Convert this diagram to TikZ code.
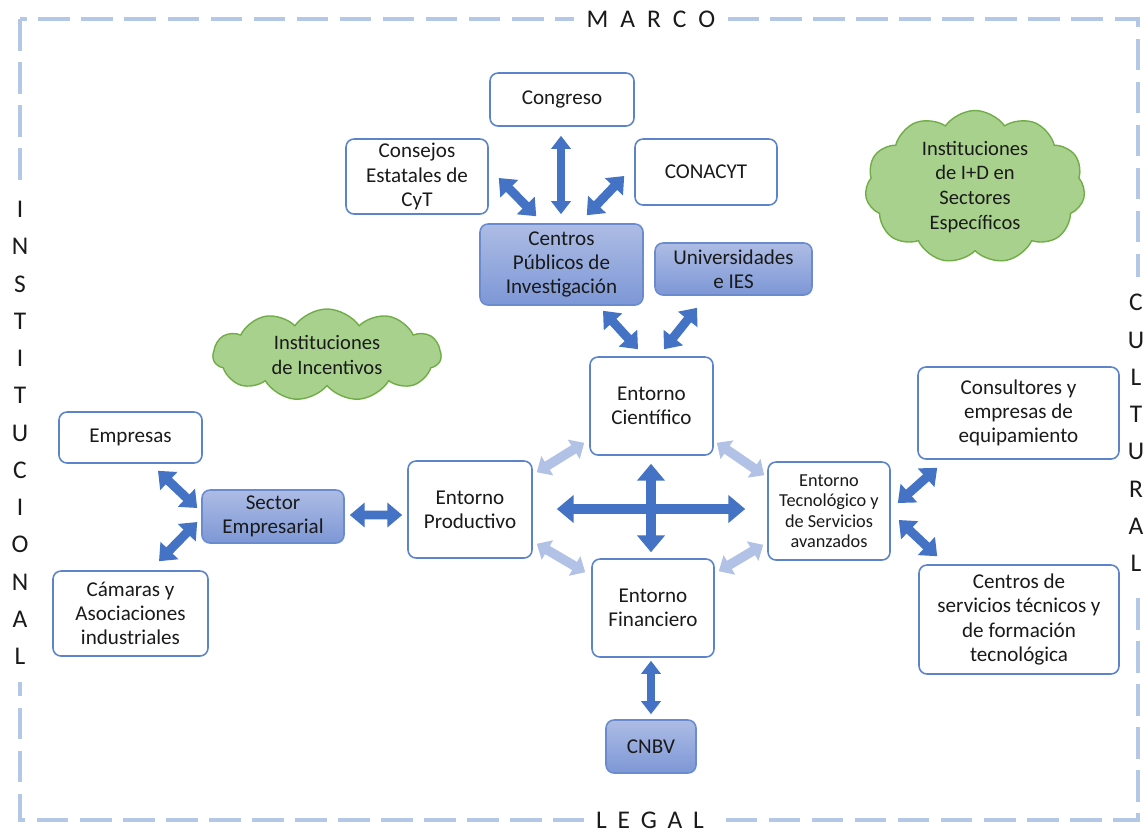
\documentclass[tikz,border=0pt]{standalone}
\usepackage{fontspec}
\setmainfont{Carlito}
\usetikzlibrary{arrows.meta,shapes.symbols,calc}
\definecolor{bxblue}{HTML}{5B84CC}
\definecolor{sbxblue}{HTML}{6A8CCF}
\definecolor{arrblue}{HTML}{4472C4}
\definecolor{litblue}{HTML}{B1C2E6}
\definecolor{dashblue}{HTML}{B4C7E7}
\definecolor{filltop}{HTML}{ADBCE4}
\definecolor{fillbot}{HTML}{7D97D6}
\definecolor{cloudfill}{HTML}{A9D18E}
\definecolor{clouddraw}{HTML}{70AD47}
\definecolor{txt}{HTML}{1A1A1A}
\begin{document}
\begin{tikzpicture}[x=0.02cm,y=-0.02cm,
  every node/.style={text=txt, font=\fontsize{12}{13.7}\selectfont},
  sz/.style 2 args={minimum width=#1*0.02cm, minimum height=#2*0.02cm},
  box/.style={draw=bxblue, line width=0.9pt, rounded corners=0.16cm, fill=white, align=center, inner sep=0pt},
  shadedbox/.style={box, draw=sbxblue, top color=filltop, bottom color=fillbot},
  cloudnode/.style={cloud, cloud puffs=11, cloud puff arc=110, draw=clouddraw, fill=cloudfill, line width=0.8pt, align=center, inner sep=0pt, font=\fontsize{11.7}{14.2}\selectfont},
  darr/.style={draw=arrblue, line width=5.1pt, {Triangle[width=13.7pt,length=8.5pt]}-{Triangle[width=13.7pt,length=8.5pt]}},
  varr/.style={draw=arrblue, line width=5.1pt, {Triangle[width=11pt,length=7.5pt]}-{Triangle[width=11pt,length=7.5pt]}},
  carr/.style={draw=arrblue, line width=5.4pt, {Triangle[width=15.4pt,length=9.6pt]}-{Triangle[width=15.4pt,length=9.6pt]}},
  larr/.style={draw=litblue, line width=5.4pt, {Triangle[width=12.5pt,length=7pt]}-{Triangle[width=12.5pt,length=7pt]}},
  bordertxt/.style={fill=white, inner xsep=7pt, inner ysep=3pt, font=\fontsize{14.5}{21.2}\selectfont}
]
\useasboundingbox (0,0) rectangle (1148,833);
\fill[white] (0,0) rectangle (1148,833);
% frame
\draw[dashblue, line width=2.3pt, dash pattern=on 18pt off 6.5pt] (20,19) rectangle (1138,820);
\node[bordertxt] (marco) at (651,19) {M\kern6.8pt A\kern6.8pt R\kern6.8pt C\kern6.8pt O};
\node[bordertxt] (legal) at (650,820) {L\kern6.1pt E\kern6.1pt G\kern6.1pt A\kern6.1pt L};
\node[bordertxt, align=center, inner xsep=4pt, inner ysep=10pt] (inst) at (20,433) {I\\N\\S\\T\\I\\T\\U\\C\\I\\O\\N\\A\\L};
\node[bordertxt, align=center, inner xsep=4pt, inner ysep=10pt] (cult) at (1136,433) {C\\U\\L\\T\\U\\R\\A\\L};

% clouds
\node[cloudnode, sz={220}{153}, aspect=1.44] (clID) at (975,187) {Instituciones\\de I+D en\\Sectores\\Específicos};
\node[cloudnode, sz={228}{92}, aspect=2.48] (clInc) at (327,355) {Instituciones\\de Incentivos};

% boxes
\node[box, sz={144}{53}] (congreso) at (562,99.5) {Congreso};
\node[box, sz={142}{75}] (consejos) at (417,176.5) {Consejos\\Estatales de\\CyT};
\node[box, sz={142}{66}] (conacyt) at (706,172) {CONACYT};
\node[shadedbox, sz={163}{81}] (cpi) at (561.5,264.5) {Centros\\Públicos de\\Investigación};
\node[shadedbox, sz={157}{52}] (univ) at (733.5,269) {Universidades\\e IES};
\node[box, sz={123}{98}] (cient) at (651.5,406) {Entorno\\Científico};
\node[box, sz={124}{97}] (prod) at (470,509.5) {Entorno\\Productivo};
\node[box, sz={122}{98}, font=\fontsize{10.4}{11.6}\selectfont] (tecno) at (829,511) {Entorno\\Tecnológico y\\de Servicios\\avanzados};
\node[box, sz={122}{98}] (fin) at (653,608) {Entorno\\Financiero};
\node[shadedbox, sz={90}{53}] (cnbv) at (651,746.5) {CNBV};
\node[box, sz={143}{51}] (empresas) at (130.5,437.5) {Empresas};
\node[shadedbox, sz={142}{53}] (sector) at (273,516.5) {Sector\\Empresarial};
\node[box, sz={155}{85}] (camaras) at (130.5,613.5) {Cámaras y\\Asociaciones\\industriales};
\node[box, sz={201}{92}] (consult) at (1018.5,413) {Consultores y\\empresas de\\equipamiento};
\node[box, sz={200}{109}] (cserv) at (1019,619.5) {Centros de\\servicios técnicos y\\de formación\\tecnológica};

% dark arrows
\draw[varr] ($(congreso.south)+(-1,9)$) -- ($(cpi.north)+(-0.5,-9)$);
\draw[darr] ($(consejos.east)+(10,1.5)$) -- ($(cpi.north west)+(57,-7)$);
\draw[darr] ($(conacyt.west)+(-10,4)$) -- ($(cpi.north east)+(-57,-8)$);
\draw[darr] ($(cpi.south)+(41.5,5)$) -- ($(cient.north)+(-13.5,-7)$);
\draw[darr] ($(univ.south)+(-36.5,12)$) -- ($(cient.north)+(12.5,-7)$);
\draw[darr] ($(empresas.south)+(27.5,7)$) -- ($(sector.west)+(-4,-8.5)$);
\draw[darr] ($(camaras.north)+(28.5,-9)$) -- ($(sector.west)+(-4,5.5)$);
\draw[darr] ($(sector.east)+(5,-1.5)$) -- ($(prod.west)+(-5,5.5)$);
\draw[carr] ($(prod.east)+(24,-0.5)$) -- ($(tecno.west)+(-22,-2)$);
\draw[carr] ($(cient.south)+(-0.5,8)$) -- ($(fin.north)+(-2,-6)$);
\draw[darr] ($(tecno.east)+(7,-8)$) -- ($(consult.south west)+(20,8)$);
\draw[darr] ($(tecno.east)+(8,9)$) -- ($(cserv.north west)+(19,-8)$);
\draw[varr] ($(fin.south)+(-2,3)$) -- ($(cnbv.north)+(0,-5)$);

% light arrows
\draw[larr] ($(cient.south west)+(-5,-13)$) -- ($(prod.north east)+(4,12)$);
\draw[larr] ($(cient.south east)+(3,-13)$) -- ($(tecno.north west)+(-3,14)$);
\draw[larr] ($(prod.south east)+(4,-15)$) -- ($(fin.north west)+(-6,14)$);
\draw[larr] ($(fin.north east)+(4,13)$) -- ($(tecno.south west)+(-4,-16)$);
\end{tikzpicture}
\end{document}
